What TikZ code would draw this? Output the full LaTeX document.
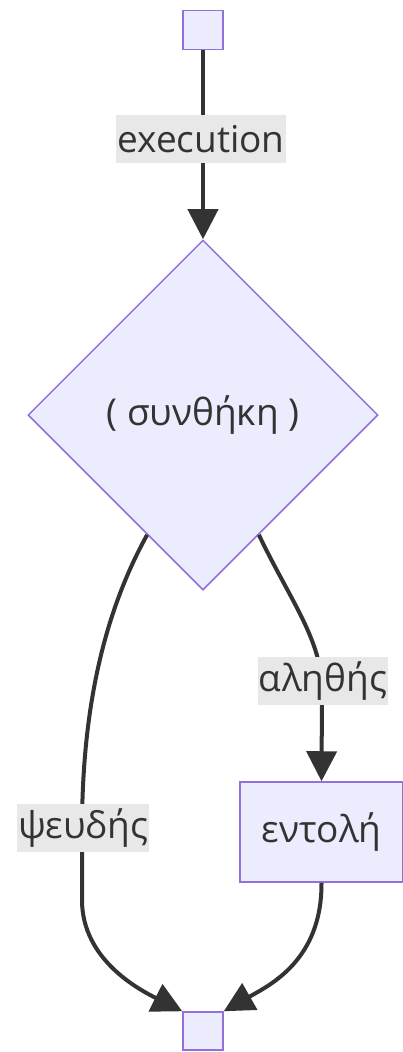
\documentclass[tikz,border=0pt]{standalone}
\usepackage{fontspec}
\setmainfont{Open Sans}
\usetikzlibrary{arrows.meta,shapes.geometric}

\definecolor{nodefill}{HTML}{ECECFF}
\definecolor{nodeline}{HTML}{9370DB}
\definecolor{ink}{HTML}{333333}
\definecolor{lblbg}{HTML}{E8E8E8}

\tikzset{
  box/.style={draw=nodeline, fill=nodefill, line width=1.5pt, text=ink, inner sep=0pt},
  decision/.style={box, diamond, minimum width=350pt, minimum height=350pt},
  lbl/.style={fill=lblbg, text=ink, inner xsep=1pt, inner ysep=0pt, minimum height=48pt},
  flow/.style={draw=ink, line width=4pt, -{Triangle[length=30pt,width=30pt]}}
}

\begin{document}
\begin{tikzpicture}[x=1pt, y=1pt, font=\fontsize{37}{44}\selectfont]
    \useasboundingbox (0,0) rectangle (403,-1052);

    \node[box, minimum width=40pt, minimum height=39pt] (start) at (203,-30) {};
    \node[decision] (cond) at (203,-415) {( συνθήκη )};
    \node[box, minimum width=163pt, minimum height=100pt] (stmt) at (321.5,-832) {εντολή};
    \node[box, minimum width=40pt, minimum height=38pt] (stop) at (203,-1031) {};

    \draw[flow] (start) -- (cond);
    \draw[flow] (cond.-65) .. controls (290,-600) and (322,-640) .. (322,-690) -- (stmt.north);
    \draw[flow] (cond.-115) .. controls (100,-620) and (82,-720) .. (82,-830)
        -- (82,-900) .. controls (82,-960) and (140,-990) .. (stop.north west);
    \draw[flow] (stmt.south) .. controls (322,-960) and (270,-985) .. (stop.north east);

    \node[lbl] (execlbl) at (201,-139) {execution};
    \node[lbl] (truelbl) at (323,-681) {αληθής};
    \node[lbl] (falselbl) at (83,-828) {ψευδής};
\end{tikzpicture}
\end{document}
